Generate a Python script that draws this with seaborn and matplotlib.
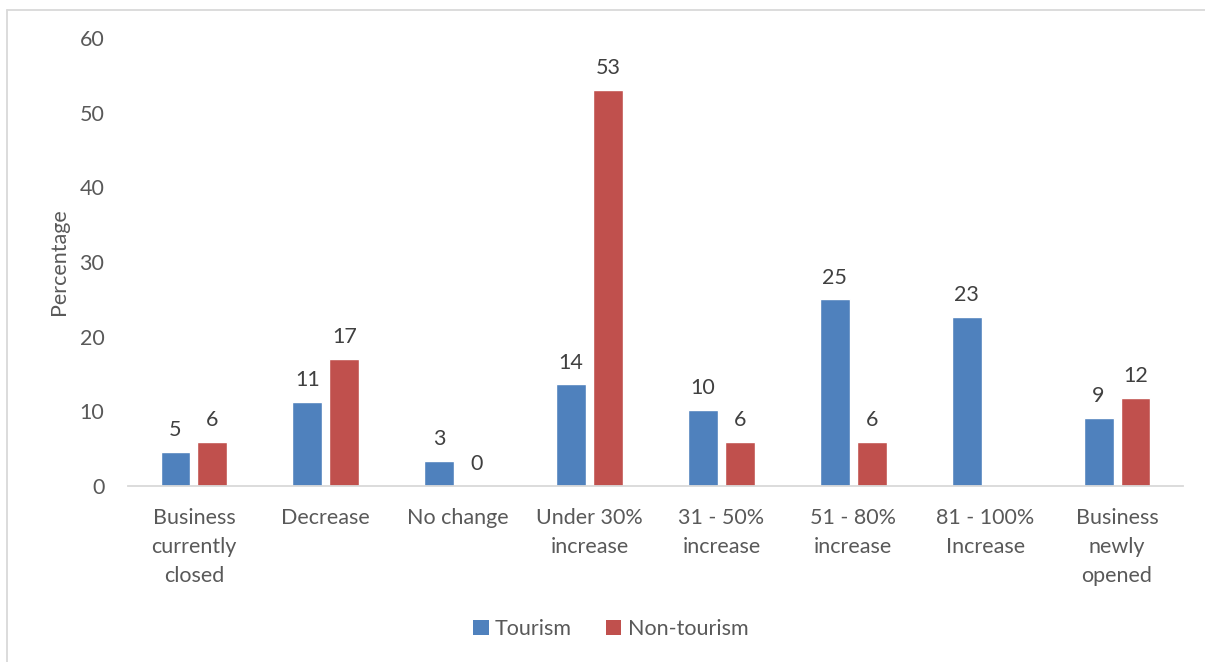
import numpy as np
import pandas as pd
import seaborn as sns
import matplotlib.pyplot as plt
from matplotlib.lines import Line2D
from matplotlib.patches import Patch

categories = [
    "Business\ncurrently\nclosed",
    "Decrease",
    "No change",
    "Under 30%\nincrease",
    "31 - 50%\nincrease",
    "51 - 80%\nincrease",
    "81 - 100%\nIncrease",
    "Business\nnewly\nopened",
]
tourism = [4.6, 11.3, 3.4, 13.6, 10.2, 25.0, 22.7, 9.1]
non_tourism = [5.9, 17.0, 0.0, 53.0, 5.9, 5.9, np.nan, 11.8]
series_names = ["Tourism", "Non-tourism"]
y_ticks = [0, 10, 20, 30, 40, 50, 60]

colors = ["#4F81BD", "#C0504D"]
text_color = "#595959"
label_color = "#404040"
axis_gray = "#D9D9D9"
fs = 15.5

df = pd.DataFrame({
    "category": categories * 2,
    "series": [series_names[0]] * len(categories) + [series_names[1]] * len(categories),
    "value": tourism + non_tourism,
})

sns.set_theme(style="white")
plt.rcParams["font.family"] = ["Lato", "DejaVu Sans"]

fig = plt.figure(figsize=(12.05, 6.62), dpi=100)
ax = fig.add_axes([128 / 1205, 1 - 486 / 662, (1183 - 128) / 1205, (486 - 38) / 662])

sns.barplot(
    data=df, x="category", y="value", hue="series",
    order=categories, hue_order=series_names, palette=colors,
    width=0.56, gap=0.19, saturation=1, errorbar=None,
    legend=False, ax=ax,
)

# value labels above each bar; a series with no value gets no bar and no label
for container, vals in zip(ax.containers, [tourism, non_tourism]):
    for bar in container:
        if bar is None:
            continue
        cx = bar.get_x() + bar.get_width() / 2
        v = vals[int(round(cx))]
        if np.isnan(v):
            continue
        ax.annotate(
            f"{v:.0f}",
            (cx, v),
            xytext=(0, 8.5), textcoords="offset points",
            ha="center", va="bottom", fontsize=fs, color=label_color,
        )

ax.set_ylim(0, 60)
ax.set_yticks(y_ticks)
ax.set_xlim(-0.5, len(categories) - 0.5)
ax.tick_params(axis="both", length=0, labelsize=fs, colors=text_color)
ax.tick_params(axis="x", pad=16)
ax.tick_params(axis="y", pad=17)
for lbl in ax.get_xticklabels():
    lbl.set_linespacing(1.55)
ax.set_xlabel("")
ax.set_ylabel("Percentage", fontsize=fs, color=text_color)
ax.yaxis.set_label_coords(-0.056, 0.5)

for side in ["top", "right", "left"]:
    ax.spines[side].set_visible(False)
ax.spines["bottom"].set_color(axis_gray)
ax.spines["bottom"].set_linewidth(1.3)

handles = [Patch(facecolor=c, edgecolor="none") for c in colors]
fig.legend(
    handles, series_names, loc="center", bbox_to_anchor=(611 / 1205, 1 - 629 / 662),
    ncol=2, frameon=False, fontsize=fs, labelcolor=text_color,
    handlelength=0.7, handleheight=0.7, handletextpad=0.3, columnspacing=1.6,
)

# chart-area frame (top and left edges)
fig.add_artist(Line2D([7 / 1205, 1.0], [1 - 10 / 662, 1 - 10 / 662],
                      color=axis_gray, lw=1.3, transform=fig.transFigure))
fig.add_artist(Line2D([7 / 1205, 7 / 1205], [0.0, 1 - 10 / 662],
                      color=axis_gray, lw=1.3, transform=fig.transFigure))

fig.savefig("out.png", dpi=100, facecolor="white")
